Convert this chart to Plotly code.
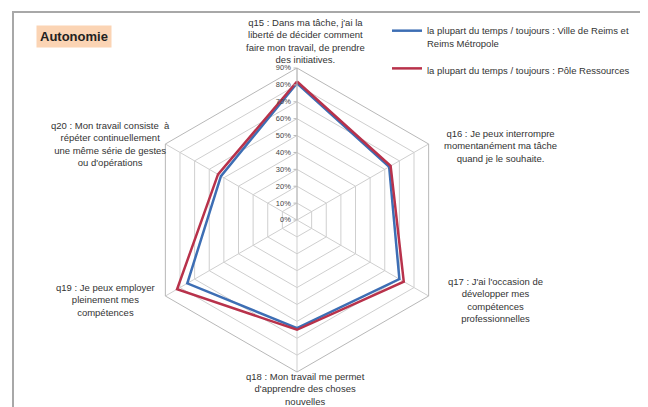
import plotly.graph_objects as go

categories = ["q15", "q16", "q17", "q18", "q19", "q20"]
category_labels = [
    "q15 : Dans ma tâche, j'ai la<br>liberté de décider comment<br>faire mon travail, de prendre<br>des initiatives.",
    "q16 : Je peux interrompre<br>momentanément ma tâche<br>quand je le souhaite.",
    "q17 : J'ai l'occasion de<br>développer mes<br>compétences<br>professionnelles",
    "q18 : Mon travail me permet<br>d'apprendre des choses<br>nouvelles",
    "q19 : Je peux employer<br>pleinement mes<br>compétences",
    "q20 : Mon travail consiste  à<br>répéter continuellement<br>une même série de gestes<br>ou d'opérations",
]
series_names = [
    "la plupart du temps / toujours : Ville de Reims et<br>Reims Métropole",
    "la plupart du temps / toujours : Pôle Ressources",
]
values_reims = [81, 63, 70, 64, 75, 52]
values_pole = [82, 64, 73, 65, 82, 54]
tick_vals = [0, 10, 20, 30, 40, 50, 60, 70, 80, 90]
tick_text = ["0%", "10%", "20%", "30%", "40%", "50%", "60%", "70%", "80%", "90%"]

colors = ["#3d6eb4", "#b8324b"]

W, H = 648, 407
cx, cy, R = 289, 212, 152

fig = go.Figure()
for i, (name, vals, col) in enumerate(zip(series_names, [values_reims, values_pole], colors)):
    fig.add_trace(go.Scatterpolar(
        r=vals + vals[:1],
        theta=categories + categories[:1],
        mode="lines",
        name=name,
        legendgroup=f"g{i}",
        line=dict(color=col, width=2.5),
    ))

fig.update_layout(
    width=W, height=H,
    margin=dict(l=0, r=0, t=0, b=0, autoexpand=False),
    paper_bgcolor="white",
    font=dict(family="Liberation Sans, Arial, sans-serif", size=9, color="#333333"),
    polar=dict(
        domain=dict(x=[(cx - R) / W, (cx + R) / W], y=[(H - cy - R) / H, (H - cy + R) / H]),
        bgcolor="white",
        gridshape="linear",
        radialaxis=dict(
            range=[0, 90], tickvals=tick_vals, ticktext=tick_text,
            angle=90, tickangle=90, side="counterclockwise",
            showline=True, linecolor="#b8b8b8", linewidth=1,
            gridcolor="#cfcfcf", gridwidth=1,
            ticks="outside", ticklen=3, tickcolor="#b8b8b8",
            tickfont=dict(size=7.5, color="#444444"),
        ),
        angularaxis=dict(
            rotation=90, direction="clockwise",
            showticklabels=False, ticks="",
            gridcolor="#cfcfcf", linecolor="#b8b8b8", linewidth=1,
        ),
    ),
    showlegend=True,
    legend=dict(
        x=379 / W, y=1 - 10 / H, xanchor="left", yanchor="top",
        font=dict(size=9.5, color="#333333"),
        bgcolor="rgba(0,0,0,0)",
        valign="top",
        tracegroupgap=10, itemwidth=30,
    ),
)

label_pos = [(297, 33), (492, 138), (487, 292), (297, 381), (97, 292), (102, 136)]
for txt, (x, y) in zip(category_labels, label_pos):
    fig.add_annotation(
        x=x / W, y=1 - y / H, xref="paper", yref="paper",
        text=txt, showarrow=False, xanchor="center", yanchor="middle",
        align="center", font=dict(size=9.5, color="#333333"),
    )

fig.add_annotation(
    x=66 / W, y=1 - 28 / H, xref="paper", yref="paper",
    text="<b>Autonomie</b>", showarrow=False, xanchor="center", yanchor="middle",
    bgcolor="#fbd4b4", borderpad=3,
    font=dict(size=13, color="#222222"),
)

fig.add_shape(type="rect", xref="paper", yref="paper",
              x0=5 / W, x1=1.01, y0=-0.01, y1=1 - 4 / H,
              line=dict(color="#a8a8a8", width=2))

fig.write_html("out.html")
